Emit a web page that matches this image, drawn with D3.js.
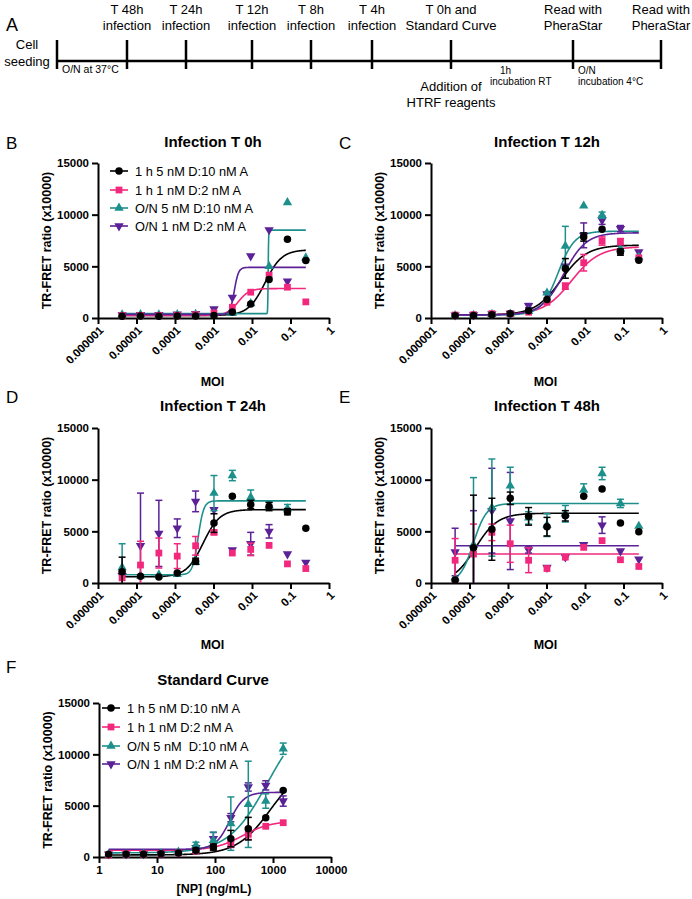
<!DOCTYPE html>
<html><head><meta charset="utf-8">
<script src="https://cdn.jsdelivr.net/npm/d3@7"></script>
<style>
body{margin:0;background:#fff}
svg text{font-family:"Liberation Sans",Arial,sans-serif;fill:#000}
</style></head><body>
<svg id="c" width="692" height="899"></svg>
<script>
// ---------- data ----------
const seriesNames = ["1 h 5 nM D:10 nM A","1 h 1 nM D:2 nM A","O/N 5 nM D:10 nM A","O/N 1 nM D:2 nM A"];
const seriesNamesF = ["1 h 5 nM D:10 nM A","1 h 1 nM D:2 nM A","O/N 5 nM  D:10 nM A","O/N 1 nM D:2 nM A"];
const colors = ["#000000","#f2287c","#1e908c","#5b2196"];

const moi = [4.23e-6, 1.27e-5, 3.81e-5, 1.143e-4, 3.43e-4, 1.029e-3, 3.086e-3, 9.26e-3, 0.02778, 0.08333, 0.25];
const np = [1.465, 2.93, 5.86, 11.72, 23.44, 46.88, 93.75, 187.5, 375, 750, 1500];

const yTicks = [0, 5000, 10000, 15000];
const moiTicks = [1e-6, 1e-5, 1e-4, 1e-3, 1e-2, 1e-1, 1];
const moiTickLabels = ["0.000001","0.00001","0.0001","0.001","0.01","0.1","1"];
const npTicks = [1, 10, 100, 1000, 10000];
const npTickLabels = ["1","10","100","1000","10000"];

// Infection T 0h
const t0Black  = [180, 190, 180, 190, 200, 240, 580, 1360, 3730, 7610, 5570];
const t0Pink   = [230, 250, 240, 260, 320, 490, 1040, 2500, 4150, 2980, 1560];
const t0Teal   = [330, 340, 330, 340, 380, 420, 450, 1400, 5000, 11180, 5830];
const t0Purple = [300, 320, 310, 360, 420, 870, 2000, 6000, 8520, 3560, null];
// fits: [bottom, top, logEC50, hill]
const t0Fit = [[250, 6600, -1.66, 2], [250, 2850, -2.36, 3], [420, 8500, -1.58, 80], [350, 4900, -2.46, 8]];

// Infection T 12h
const t12Black  = [230, 240, 320, 420, 710, 1780, 4800, 7840, 8590, 6380, 5600];
const t12Pink   = [290, 320, 420, 430, 560, 1520, 3080, 5350, 7450, 7390, 5830];
const t12Teal   = [260, 270, 360, 400, 650, 2430, 6970, 10850, 9950, 6700, 5900];
const t12Purple = [280, 290, 380, 440, 1200, 2330, 5020, 8000, 9460, 8650, 6380];
const t12BlackErr  = [0, 0, 0, 0, 0, 0, 950, 400, 0, 300, 0];
const t12PinkErr   = [0, 0, 0, 0, 0, 0, 300, 800, 400, 300, 0];
const t12TealErr   = [0, 0, 0, 0, 0, 0, 1900, 0, 300, 0, 0];
const t12PurpleErr = [0, 0, 0, 0, 200, 0, 0, 1200, 400, 300, 0];
const t12Fit = [[300, 7050, -2.62, 1.3], [300, 6900, -2.35, 1.2], [300, 8400, -2.7, 2], [300, 8250, -2.55, 1.5]];

// Infection T 24h
const t24Black  = [1100, 650, 580, 970, 2100, 5800, 8400, 7600, 7400, 6900, 5300];
const t24Pink   = [500, 1740, 2900, 2600, 3600, 4900, 2900, 3250, 3640, 1850, 1400];
const t24Teal   = [1500, 700, 800, 850, 2000, 8700, 10400, 8300, 7500, 7200, null];
const t24Purple = [700, 3600, 4800, 5300, 7900, 7100, 3200, 3800, 5000, 2800, 2000];
const t24BlackErr  = [1400, 0, 0, 0, 300, 900, 0, 400, 400, 300, 0];
const t24PinkErr   = [600, 2300, 1450, 1200, 900, 200, 0, 600, 0, 0, 0];
const t24TealErr   = [2300, 0, 0, 0, 0, 1700, 500, 700, 300, 400, 0];
const t24PurpleErr = [0, 5100, 3200, 900, 1000, 0, 0, 1100, 650, 0, 0];
const t24Fit = [[600, 7100, -3.27, 2], null, [800, 7950, -3.4, 6], null];

// Infection T 48h
const t48Black  = [300, 3400, 5200, 8200, 6450, 5450, 6500, 8400, 9100, 5800, 4950];
const t48Pink   = [2200, 2800, 4900, 3800, 2200, 1400, 2500, 3450, 4100, 2250, 1600];
const t48Teal   = [500, 3700, 7300, 9400, 6300, 5600, 6700, 9000, 10600, 7700, 5500];
const t48Purple = [3000, 3300, 7000, 6000, 3200, 1500, 2500, 3700, 5600, 3100, 2300];
const t48BlackErr  = [0, 5100, 3000, 600, 850, 900, 500, 0, 0, 0, 0];
const t48PinkErr   = [2100, 2900, 800, 1800, 1200, 0, 0, 0, 0, 0, 0];
const t48TealErr   = [0, 6500, 4700, 1800, 600, 1100, 800, 600, 600, 400, 0];
const t48PurpleErr = [2300, 3700, 4100, 4700, 300, 0, 0, 0, 800, 0, 0];
const t48Fit = [[0, 6750, -4.85, 1.5], [2800, 2800, -4, 1], [0, 7700, -4.9, 2.5], [3600, 3600, -4, 1]];

// Standard curve
const scBlack  = [260, 260, 260, 320, 390, 650, 970, 1790, 2760, 3830, 6490];
const scPink   = [195, 240, 260, 300, 390, 580, 910, 1230, 2210, 2990, 3340];
const scTeal   = [250, 260, 300, 350, 490, 1140, 1620, 3250, 5130, 5450, 10550];
const scPurple = [280, 280, 300, 350, 450, 900, 1790, 3830, 6820, 6980, 5450];
const scBlackErr  = [0, 0, 0, 0, 0, 200, 300, 800, 1100, 0, 0];
const scPinkErr   = [0, 0, 0, 0, 0, 0, 200, 300, 500, 0, 0];
const scTealErr   = [0, 0, 0, 0, 0, 300, 800, 2600, 4200, 700, 550];
const scPurpleErr = [0, 0, 0, 0, 0, 200, 600, 400, 400, 450, 500];
const scFit = [[200, 9000, 2.954, 1.5], [650, 3500, 2.477, 1.8], [400, 14000, 2.903, 1.3], [750, 6300, 2.255, 3.5]];

// timeline texts
const tlAbove = [null, ["T 48h","infection"], ["T 24h","infection"], ["T 12h","infection"], ["T 8h","infection"],
  ["T 4h","infection"], ["T 0h and","Standard Curve"], ["Read with","PheraStar"], ["Read with","PheraStar"]];

// ---------- drawing ----------
const svg = d3.select("#c");

// Panel A timeline
const tlX = [57, 127, 186, 252, 311, 372, 451, 573, 661];
const tlY = 61;
const gA = svg.append("g");
gA.append("text").attr("x", 6).attr("y", 31).attr("font-size", 18).text("A");
gA.append("line").attr("x1", tlX[0]).attr("x2", tlX[8]).attr("y1", tlY).attr("y2", tlY)
  .attr("stroke", "#000").attr("stroke-width", 2.5);
tlX.forEach((tx, i) => {
  gA.append("line").attr("x1", tx).attr("x2", tx).attr("y1", tlY - 21).attr("y2", tlY + 8)
    .attr("stroke", "#000").attr("stroke-width", 2.5);
  if (tlAbove[i]) {
    gA.append("text").attr("x", tx).attr("y", 14).attr("text-anchor", "middle").attr("font-size", 13).text(tlAbove[i][0]);
    gA.append("text").attr("x", tx).attr("y", 30).attr("text-anchor", "middle").attr("font-size", 13).text(tlAbove[i][1]);
  }
});
gA.append("text").attr("x", 27).attr("y", 49).attr("text-anchor", "middle").attr("font-size", 13).text("Cell");
gA.append("text").attr("x", 27).attr("y", 66).attr("text-anchor", "middle").attr("font-size", 13).text("seeding");
gA.append("text").attr("x", 62).attr("y", 73).attr("font-size", 10.5).text("O/N at 37°C");
gA.append("text").attr("x", 451).attr("y", 91).attr("text-anchor", "middle").attr("font-size", 13).text("Addition of");
gA.append("text").attr("x", 451).attr("y", 107).attr("text-anchor", "middle").attr("font-size", 13).text("HTRF reagents");
gA.append("text").attr("x", 500).attr("y", 74).attr("font-size", 10).text("1h");
gA.append("text").attr("x", 490).attr("y", 85).attr("font-size", 10).text("incubation RT");
gA.append("text").attr("x", 578).attr("y", 74).attr("font-size", 10).text("O/N");
gA.append("text").attr("x", 578).attr("y", 85).attr("font-size", 10).text("incubation 4°C");

const shapes = [d3.symbolCircle, d3.symbolSquare, d3.symbolTriangle, d3.symbolTriangle];
const shapeSize = [44, 46, 38, 38];
const shapeRot = [0, 0, 0, 180];
const drawOrder = [3, 2, 1, 0];

function fourPL(f, lx) { return f[0] + (f[1] - f[0]) / (1 + Math.pow(10, (f[2] - lx) * f[3])); }

function drawPanel(p) {
  const g = svg.append("g");
  const x = d3.scaleLog().domain(p.xDomain).range([p.x0, p.x1]);
  const y = d3.scaleLinear().domain([0, 15000]).range([p.y0, p.y1]);

  // y axis
  const gy = g.append("g").attr("transform", `translate(${p.x0},0)`)
    .call(d3.axisLeft(y).tickValues(yTicks).tickSize(6).tickSizeOuter(0).tickPadding(3).tickFormat(d3.format("d")));
  gy.attr("font-family", null).attr("font-size", null);
  gy.selectAll("path,line").attr("stroke", "#000").attr("stroke-width", 2);
  gy.selectAll("text").attr("font-size", 11.5).attr("font-weight", "bold");

  // x axis
  const gx = g.append("g").attr("transform", `translate(0,${p.y0})`)
    .call(d3.axisBottom(x).tickValues(p.xTicks).tickSize(6).tickSizeOuter(0)
      .tickFormat((d, i) => p.xTickLabels[i]));
  gx.attr("font-family", null).attr("font-size", null);
  gx.selectAll("path,line").attr("stroke", "#000").attr("stroke-width", 2);
  const xt = gx.selectAll("text").attr("font-size", 11.5).attr("font-weight", "bold");
  if (p.rotate) {
    xt.attr("y", 0).attr("dy", "0.35em").attr("transform", "translate(3,10) rotate(-45)").attr("text-anchor", "end");
  }

  // titles
  g.append("text").attr("x", p.titleX).attr("y", p.titleY).attr("text-anchor", "middle")
    .attr("font-size", 15).attr("font-weight", "bold").text(p.title);
  g.append("text").attr("x", p.letterX).attr("y", p.letterY).attr("font-size", 17).text(p.letter);
  g.append("text").attr("x", (p.x0 + p.x1) / 2 - 1).attr("y", p.xLabelY).attr("text-anchor", "middle")
    .attr("font-size", 12.5).attr("font-weight", "bold").text(p.xLabel);
  g.append("text").attr("transform", `translate(${p.x0 - 51},${(p.y0 + p.y1) / 2}) rotate(-90)`)
    .attr("text-anchor", "middle").attr("dy", "0.35em").attr("font-size", 12.5).attr("font-weight", "bold")
    .text("TR-FRET ratio (x10000)");

  // curves
  const lx0 = Math.log10(d3.min(p.xs)), lx1 = Math.log10(d3.max(p.xs));
  const samples = d3.range(0, 601).map(i => lx0 + (lx1 - lx0) * i / 600);
  p.fits.forEach((f, si) => {
    if (!f) return;
    g.append("path").datum(samples)
      .attr("d", d3.line().x(d => x(Math.pow(10, d))).y(d => y(Math.max(0, fourPL(f, d)))))
      .attr("fill", "none").attr("stroke", colors[si]).attr("stroke-width", 1.6);
  });

  // points + error bars
  drawOrder.forEach(si => {
    const vals = p.vals[si], errs = p.errs ? p.errs[si] : null;
    const pts = p.xs.map((xv, i) => ({ xv, v: vals[i], e: errs ? errs[i] : 0 })).filter(d => d.v != null);
    const ge = g.append("g").attr("stroke", colors[si]).attr("stroke-width", 1.5);
    pts.filter(d => d.e > 0).forEach(d => {
      const cx = x(d.xv), yt = y(Math.min(15000, d.v + d.e)), yb = y(Math.max(0, d.v - d.e));
      ge.append("line").attr("x1", cx).attr("x2", cx).attr("y1", yt).attr("y2", yb);
      ge.append("line").attr("x1", cx - 3.5).attr("x2", cx + 3.5).attr("y1", yt).attr("y2", yt);
      if (d.v - d.e > 0) ge.append("line").attr("x1", cx - 3.5).attr("x2", cx + 3.5).attr("y1", yb).attr("y2", yb);
    });
    g.append("g").selectAll("path").data(pts).join("path")
      .attr("d", d3.symbol().type(shapes[si]).size(shapeSize[si]))
      .attr("transform", d => `translate(${x(d.xv)},${y(d.v)}) rotate(${shapeRot[si]})`)
      .attr("fill", colors[si]);
  });

  // legend
  if (p.legend) {
    p.legend.names.forEach((name, si) => {
      const ly = p.legend.ys[si];
      g.append("line").attr("x1", p.legend.x - 9).attr("x2", p.legend.x + 9).attr("y1", ly).attr("y2", ly)
        .attr("stroke", colors[si]).attr("stroke-width", 1.6);
      g.append("path").attr("d", d3.symbol().type(shapes[si]).size(shapeSize[si]))
        .attr("transform", `translate(${p.legend.x},${ly}) rotate(${shapeRot[si]})`).attr("fill", colors[si]);
      g.append("text").attr("x", p.legend.x + 16).attr("y", ly).attr("dy", "0.36em")
        .attr("font-size", 12.8).style("white-space", "pre").text(name);
    });
  }
}

drawPanel({ x0: 98, x1: 329, y0: 318, y1: 163, xDomain: [1e-6, 1], xTicks: moiTicks, xTickLabels: moiTickLabels, rotate: true,
  title: "Infection T 0h", titleX: 213, titleY: 147, letter: "B", letterX: 6, letterY: 149, xLabel: "MOI", xLabelY: 386,
  xs: moi, vals: [t0Black, t0Pink, t0Teal, t0Purple], errs: null, fits: t0Fit,
  legend: { x: 119, ys: [171, 190, 208, 226], names: seriesNames } });

drawPanel({ x0: 431, x1: 662, y0: 318, y1: 163, xDomain: [1e-6, 1], xTicks: moiTicks, xTickLabels: moiTickLabels, rotate: true,
  title: "Infection T 12h", titleX: 547, titleY: 147, letter: "C", letterX: 339, letterY: 149, xLabel: "MOI", xLabelY: 386,
  xs: moi, vals: [t12Black, t12Pink, t12Teal, t12Purple], errs: [t12BlackErr, t12PinkErr, t12TealErr, t12PurpleErr], fits: t12Fit });

drawPanel({ x0: 98, x1: 329, y0: 583, y1: 428, xDomain: [1e-6, 1], xTicks: moiTicks, xTickLabels: moiTickLabels, rotate: true,
  title: "Infection T 24h", titleX: 213, titleY: 411, letter: "D", letterX: 6, letterY: 403, xLabel: "MOI", xLabelY: 649,
  xs: moi, vals: [t24Black, t24Pink, t24Teal, t24Purple], errs: [t24BlackErr, t24PinkErr, t24TealErr, t24PurpleErr], fits: t24Fit });

drawPanel({ x0: 431, x1: 662, y0: 583, y1: 428, xDomain: [1e-6, 1], xTicks: moiTicks, xTickLabels: moiTickLabels, rotate: true,
  title: "Infection T 48h", titleX: 547, titleY: 411, letter: "E", letterX: 339, letterY: 403, xLabel: "MOI", xLabelY: 649,
  xs: moi, vals: [t48Black, t48Pink, t48Teal, t48Purple], errs: [t48BlackErr, t48PinkErr, t48TealErr, t48PurpleErr], fits: t48Fit });

drawPanel({ x0: 99, x1: 331, y0: 857, y1: 703, xDomain: [1, 10000], xTicks: npTicks, xTickLabels: npTickLabels, rotate: false,
  title: "Standard Curve", titleX: 213, titleY: 685, letter: "F", letterX: 6, letterY: 673, xLabel: "[NP] (ng/mL)", xLabelY: 893,
  xs: np, vals: [scBlack, scPink, scTeal, scPurple], errs: [scBlackErr, scPinkErr, scTealErr, scPurpleErr], fits: scFit,
  legend: { x: 111, ys: [708, 727, 746, 764], names: seriesNamesF } });
</script>
</body></html>
